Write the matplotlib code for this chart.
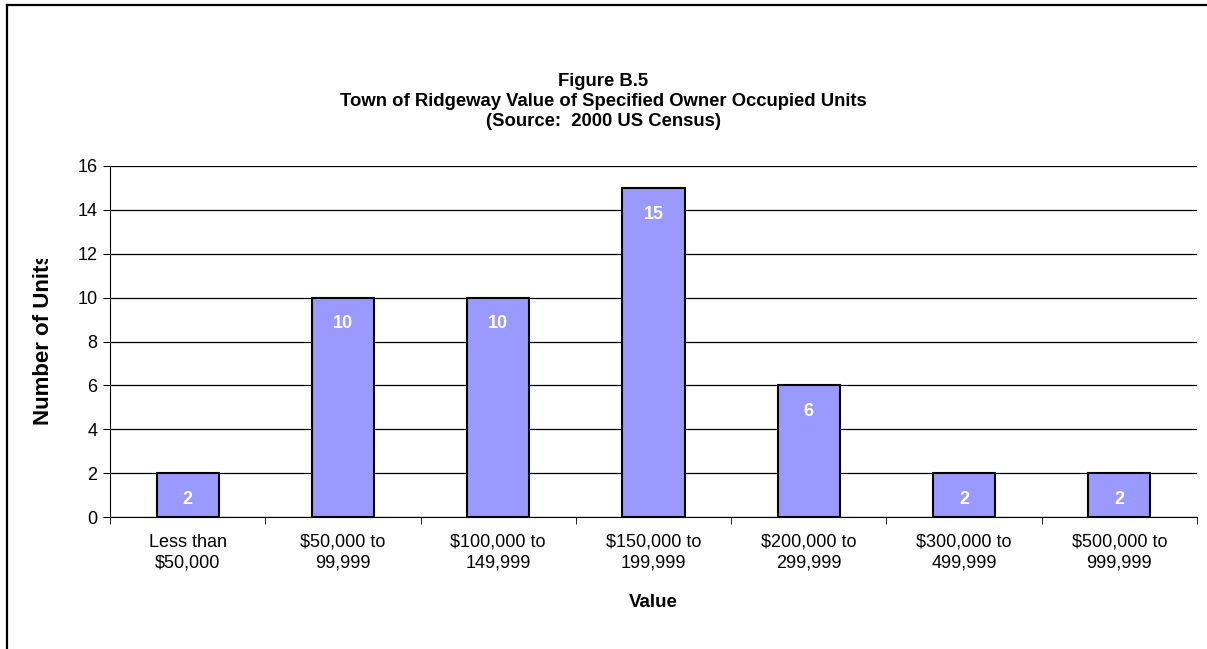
import matplotlib.pyplot as plt
from matplotlib.lines import Line2D
from matplotlib.transforms import Bbox
import numpy as np

plt.rcParams['font.family'] = ['Liberation Sans', 'DejaVu Sans']

categories = ["Less than\n$50,000", "$50,000 to\n99,999", "$100,000 to\n149,999",
              "$150,000 to\n199,999", "$200,000 to\n299,999", "$300,000 to\n499,999",
              "$500,000 to\n999,999"]
units = [2, 10, 10, 15, 6, 2, 2]
y_ticks = [0, 2, 4, 6, 8, 10, 12, 14, 16]

W, H = 1207, 649
fig = plt.figure(figsize=(W / 100, H / 100), dpi=100)

# chart frame: only top and left edges are visible in the original
fig.add_artist(Line2D([6.5 / W, 6.5 / W], [0, 1 - 5 / H], transform=fig.transFigure,
                      color='black', linewidth=1.6))
fig.add_artist(Line2D([6.5 / W, 1], [1 - 5 / H, 1 - 5 / H], transform=fig.transFigure,
                      color='black', linewidth=1.6))

left, right, top, bottom = 110, 1197, 166, 517
ax = fig.add_axes([left / W, 1 - bottom / H, (right - left) / W, (bottom - top) / H])

x = np.arange(len(units))
ax.bar(x, units, width=0.4, color='#9999FF', edgecolor='black', linewidth=1.5, zorder=3)

for xi, v in zip(x, units):
    ax.text(xi, v - 1.2, str(v), ha='center', va='center', color='white',
            fontsize=13, fontweight='bold', zorder=4)

ax.set_xlim(-0.5, len(units) - 0.5)
ax.set_ylim(0, 16)
ax.set_yticks(y_ticks)
ax.set_yticklabels([str(t) for t in y_ticks], fontsize=13)
ax.yaxis.grid(True, color='black', linewidth=0.9, zorder=0)
ax.set_axisbelow(True)

ax.set_xticks(x)
ax.set_xticklabels(categories, fontsize=13, linespacing=1.3)
ax.tick_params(axis='x', length=0, pad=12)
ax.set_xticks(np.arange(-0.5, len(units)), minor=True)
ax.tick_params(axis='x', which='minor', length=5, color='black')
ax.tick_params(axis='y', length=5, color='black', pad=4)

for s in ['top', 'right']:
    ax.spines[s].set_visible(False)
ax.spines['left'].set_color('black')
ax.spines['bottom'].set_color('black')

ax.set_xlabel("Value", fontsize=13.5, fontweight='bold', labelpad=16)

fig.text(0.5, 1 - 82 / H, "Figure B.5", ha='center', va='center',
         fontsize=13.3, fontweight='bold')
fig.text(0.5, 1 - 102 / H, "Town of Ridgeway Value of Specified Owner Occupied Units",
         ha='center', va='center', fontsize=13.3, fontweight='bold')
fig.text(0.5, 1 - 122 / H, "(Source:  2000 US Census)", ha='center', va='center',
         fontsize=13.3, fontweight='bold')

# y label, cut at the top like in the original
ylab = fig.text(44 / W, 1 - 425 / H, "Number of Units", rotation=90, ha='center',
                va='bottom', fontsize=16, fontweight='bold')
ylab.set_clip_box(Bbox([[0, 0], [100, H - 259]]))
ylab.set_clip_on(True)

fig.savefig("out.png", dpi=100)
